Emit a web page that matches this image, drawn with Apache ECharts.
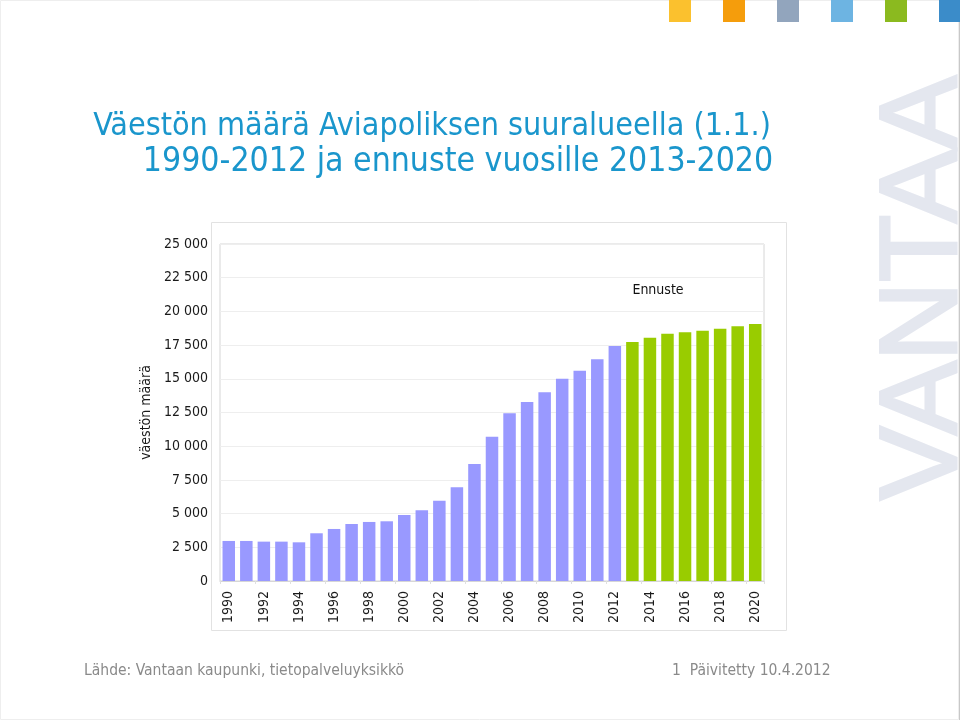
<!DOCTYPE html>
<html>
<head>
<meta charset="utf-8">
<script src="https://cdn.jsdelivr.net/npm/echarts@6/dist/echarts.min.js"></script>
<style>
html,body{margin:0;padding:0;background:#fff;}
#c{width:960px;height:720px;}
</style>
</head>
<body>
<div id="c"></div>
<script>
const years = ['1990','1991','1992','1993','1994','1995','1996','1997','1998','1999','2000','2001','2002','2003','2004','2005','2006','2007','2008','2009','2010','2011','2012','2013','2014','2015','2016','2017','2018','2019','2020'];
const historical = [2970,2970,2920,2920,2870,3540,3860,4230,4380,4430,4900,5240,5960,6950,8680,10710,12440,13280,14000,15010,15600,16450,17430,null,null,null,null,null,null,null,null];
const forecast = [null,null,null,null,null,null,null,null,null,null,null,null,null,null,null,null,null,null,null,null,null,null,null,17730,18050,18350,18450,18570,18720,18890,19070];
const titleLines = ['Väestön määrä Aviapoliksen suuralueella (1.1.)','1990-2012 ja ennuste vuosille 2013-2020'];
const yAxisName = 'väestön määrä';
const forecastLabel = 'Ennuste';
const sourceText = 'Lähde: Vantaan kaupunki, tietopalveluyksikkö';
const pageText = '1  Päivitetty 10.4.2012';
const watermark = 'VANTAA';
const squareColors = ['#fbc12e','#f59d0c','#92a5bd','#6db4e2','#8bba1f','#3b8cc9'];

const fontT = '"DejaVu Sans Condensed", "DejaVu Sans", sans-serif';
const chart = echarts.init(document.getElementById('c'), null, {renderer:'canvas'});

const graphics = [];
graphics.push({type:'rect', shape:{x:0.5,y:0.5,width:958,height:719}, style:{fill:'none', stroke:'#eeeeee', lineWidth:1}, z:-10});
graphics.push({type:'line', shape:{x1:959.5,y1:22,x2:959.5,y2:720}, style:{stroke:'#c8c8c8', lineWidth:1}});
squareColors.forEach((c,i)=>{
  graphics.push({type:'rect', shape:{x:669+i*54, y:0, width:22, height:22}, style:{fill:c}});
});
graphics.push({type:'text', x:926, y:288, rotation:Math.PI/2, z:-5,
  style:{text:watermark, font:'normal 110px "Liberation Sans", Arial, sans-serif', fill:'#e4e7ef', stroke:'#e4e7ef', lineWidth:3, textAlign:'center', textVerticalAlign:'middle'}});
graphics.push({type:'text', x:432, y:127, style:{text:titleLines[0], font:'normal 32px '+fontT, fill:'#1a96cc', textAlign:'center', textVerticalAlign:'middle'}});
graphics.push({type:'text', x:458, y:162, style:{text:titleLines[1], font:'normal 33.5px '+fontT, fill:'#1a96cc', textAlign:'center', textVerticalAlign:'middle'}});
graphics.push({type:'rect', shape:{x:211.5,y:222.5,width:575,height:408}, style:{fill:'none', stroke:'#e2e2e2', lineWidth:1}, z:-3});
graphics.push({type:'text', x:658, y:290, style:{text:forecastLabel, font:'normal 14px '+fontT, fill:'#111', textAlign:'center', textVerticalAlign:'middle'}});
graphics.push({type:'text', x:84, y:671, style:{text:sourceText, font:'normal 15.5px '+fontT, fill:'#8a8a8a', textAlign:'left', textVerticalAlign:'middle'}});
graphics.push({type:'text', x:672, y:671, style:{text:pageText, font:'normal 15.5px '+fontT, fill:'#8a8a8a', textAlign:'left', textVerticalAlign:'middle'}});

chart.setOption({
  animation:false,
  backgroundColor:'#ffffff',
  graphic: graphics,
  grid:{left:220, top:244, right:196, bottom:139, show:true, borderColor:'#d6d6d6', borderWidth:1, containLabel:false},
  xAxis:{
    type:'category', data:years,
    axisLine:{show:true, lineStyle:{color:'#d6d6d6'}},
    axisTick:{show:true, length:3, lineStyle:{color:'#e0e0e0'}},
    axisLabel:{interval:1, rotate:90, margin:10, fontFamily:fontT, fontSize:14, color:'#1a1a1a'}
  },
  yAxis:{
    type:'value', min:0, max:25000, interval:2500,
    name:yAxisName, nameLocation:'middle', nameGap:67, nameRotate:90,
    nameTextStyle:{fontFamily:fontT, fontSize:14, color:'#1a1a1a'},
    axisLine:{show:false}, axisTick:{show:false},
    splitLine:{show:true, lineStyle:{color:'#eeeeee'}},
    axisLabel:{margin:12, fontFamily:fontT, fontSize:14, color:'#1a1a1a',
      formatter:v=>String(v).replace(/\B(?=(\d{3})+(?!\d))/g,' ')}
  },
  series:[
    {type:'bar', name:'historia', data:historical, barWidth:12.5, barGap:'-100%', itemStyle:{color:'#9999ff'}},
    {type:'bar', name:'ennuste', data:forecast, barWidth:12.5, barGap:'-100%', itemStyle:{color:'#99cc00'}}
  ]
});
</script>
</body>
</html>
